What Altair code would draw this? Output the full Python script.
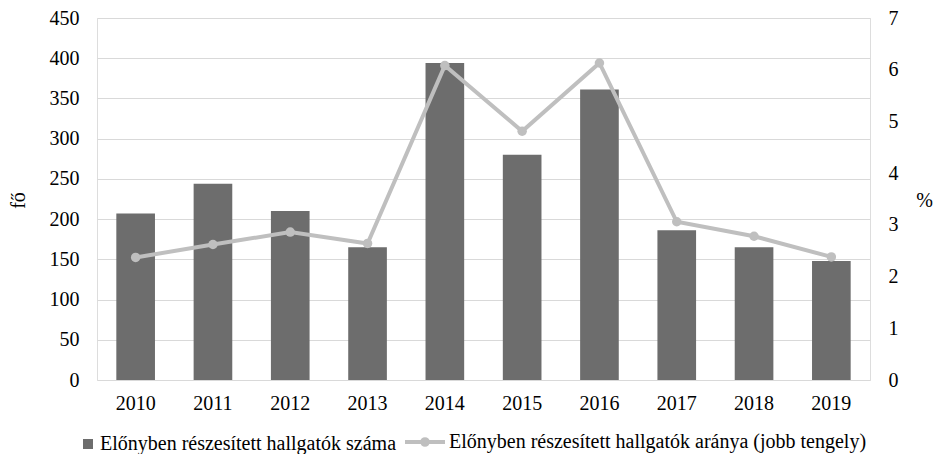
import altair as alt
import pandas as pd

years = ["2010", "2011", "2012", "2013", "2014", "2015", "2016", "2017", "2018", "2019"]
counts = [207, 244, 210, 165, 394, 280, 361, 186, 165, 148]
rates = [2.37, 2.62, 2.86, 2.64, 6.08, 4.81, 6.13, 3.06, 2.78, 2.38]

label_bar = "Előnyben részesített hallgatók száma"
label_line = "Előnyben részesített hallgatók aránya (jobb tengely)"

df = pd.DataFrame({
    "year": years,
    "count": counts,
    "rate": rates,
    "s1": label_bar,
    "s2": label_line,
})

FONT = "Liberation Serif"
FS = 20
BAR = "#6d6d6d"
LINE = "#bfbfbf"

x_enc = alt.X(
    "year:N",
    sort=years,
    scale=alt.Scale(paddingInner=0.5, paddingOuter=0.25),
    axis=alt.Axis(title=None, labelAngle=0, ticks=False, domain=False,
                  labelPadding=13, labelFontSize=FS, labelColor="black",
                  labelFont=FONT, grid=False),
)

base = alt.Chart(df)

bars = base.mark_bar().encode(
    x=x_enc,
    y=alt.Y(
        "count:Q",
        scale=alt.Scale(domain=[0, 450], nice=False),
        axis=alt.Axis(values=list(range(0, 451, 50)), title="fő",
                      titleAngle=270, titleX=-79, titleY=182,
                      titleAlign="center", titleBaseline="middle",
                      titleFontSize=FS, titleFontWeight="normal",
                      titleColor="black", titleFont=FONT,
                      ticks=False, domain=False, labelPadding=18,
                      labelFontSize=FS, labelColor="black", labelFont=FONT,
                      grid=True, gridColor="#d9d9d9", gridWidth=1),
    ),
    fill=alt.Fill(
        "s1:N",
        scale=alt.Scale(domain=[label_bar], range=[BAR]),
        legend=alt.Legend(title=None, orient="none", legendX=-19, legendY=416,
                          symbolType="square", symbolSize=100,
                          symbolStrokeWidth=0, labelFontSize=FS,
                          labelFont=FONT, labelColor="black", labelOffset=2,
                          labelLimit=0, padding=0),
    ),
)

line = base.mark_line(strokeWidth=4).encode(
    x=x_enc,
    y=alt.Y(
        "rate:Q",
        scale=alt.Scale(domain=[0, 7], nice=False),
        axis=alt.Axis(orient="right", values=list(range(0, 8)), title="%",
                      titleAngle=0, titleX=54, titleY=182,
                      titleAlign="center", titleBaseline="middle",
                      titleFontSize=FS, titleFontWeight="normal",
                      titleColor="black", titleFont=FONT,
                      ticks=False, domain=False, labelPadding=18,
                      labelFontSize=FS, labelColor="black", labelFont=FONT,
                      grid=False),
    ),
    stroke=alt.Stroke(
        "s2:N",
        scale=alt.Scale(domain=[label_line], range=[LINE]),
        legend=alt.Legend(title=None, orient="none", legendX=306, legendY=402,
                          symbolType="M-1,0L1,0M0.14,0A0.14,0.14,0,1,1,-0.14,0A0.14,0.14,0,1,1,0.14,0Z",
                          symbolSize=1600, symbolStrokeWidth=4,
                          symbolFillColor=LINE, labelFontSize=FS,
                          labelFont=FONT, labelColor="black", labelOffset=2,
                          labelLimit=0, padding=0),
    ),
)

points = base.mark_circle(size=90, opacity=1, color=LINE).encode(
    x=x_enc,
    y=alt.Y("rate:Q", scale=alt.Scale(domain=[0, 7], nice=False), axis=None),
)

chart = (
    alt.layer(bars, line, points)
    .resolve_scale(y="independent")
    .properties(
        width=773,
        height=362,
        padding={"left": 89, "top": 10, "right": 63, "bottom": 74},
        autosize=alt.AutoSizeParams(type="none"),
    )
    .configure_view(stroke=None)
    .configure(font=FONT)
)

chart.save("out.html", embed_options={"renderer": "svg", "actions": False})
